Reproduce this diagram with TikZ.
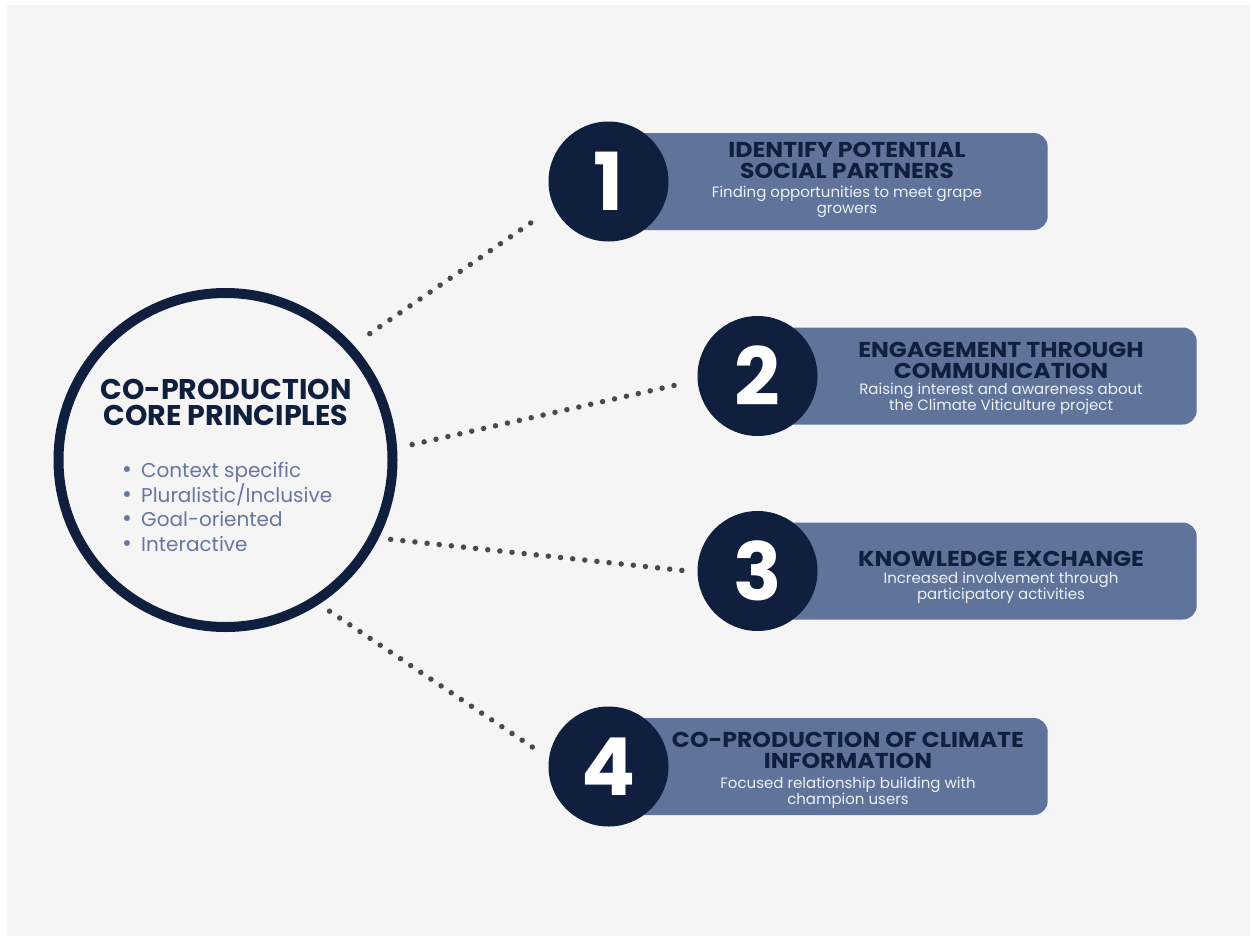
\documentclass[tikz,border=0pt]{standalone}
\usepackage{fontspec}
\setmainfont{Poppins}
\newfontfamily\stepfont{Poppins}[FakeStretch=1.1]
\usetikzlibrary{positioning}

\definecolor{navy}{HTML}{0F1F3D}
\definecolor{slate}{HTML}{5F739B}
\definecolor{listblue}{HTML}{6677A0}
\definecolor{dotgray}{HTML}{4A4A4A}
\definecolor{paper}{HTML}{F5F5F5}
\definecolor{subwhite}{HTML}{EEF0F4}

\newcommand{\pitem}[1]{\makebox[19pt][l]{\fontsize{24}{24}\selectfont\textbullet}#1}

\tikzset{
	core/.style={circle, draw=navy, line width=10pt, fill=paper, minimum size=334pt, inner sep=0pt},
	stepnum/.style={circle, fill=navy, minimum size=120pt, inner sep=0pt, text=white,
		font=\fontsize{80}{80}\selectfont\bfseries},
	stepbox/.style={rectangle, rounded corners=14pt, fill=slate, minimum width=439pt,
		minimum height=97pt, anchor=west, inner sep=0pt},
	steptitle/.style={anchor=north, inner sep=0pt, align=center, text=navy,
		font=\stepfont\fontsize{21.5}{21}\selectfont\bfseries},
	stepsub/.style={anchor=north, inner sep=0pt, align=center, text=subwhite,
		font=\fontsize{15}{16.5}\selectfont},
	dotline/.style={dotgray, line width=5.5pt, line cap=round, dash pattern=on 0pt off 12.2pt},
}

\begin{document}
\begin{tikzpicture}[x=1pt,y=-1pt]
	\useasboundingbox (0,0) rectangle (1253,937);
	%Background
	\fill [white] (0,0) rectangle (1253,937);
	\fill [paper] (7,5) rectangle (1250,936);

	%Core principles circle
	\node [core] (core) at (225.5,460) {};
	\node [anchor=north, inner sep=0pt, align=center, text=navy,
		font=\fontsize{28.5}{25.5}\selectfont\bfseries] (coretitle) at (226,379.5)
		{CO-PRODUCTION\\CORE PRINCIPLES};
	\node [anchor=north west, inner sep=0pt, align=left, text=listblue,
		font=\fontsize{20}{24.6}\selectfont] (corelist) at (122,462)
		{\pitem{Context specific}\\\pitem{Pluralistic/Inclusive}\\\pitem{Goal-oriented}\\\pitem{Interactive}};

	%Step 1
	\coordinate (c1) at (608.5,181.5);
	\node [stepbox] (b1) at (c1) {};
	\node [stepnum] (n1) at (c1) {1};
	\node [steptitle] (t1) at (847,141.5) {IDENTIFY POTENTIAL\\SOCIAL PARTNERS};
	\node [stepsub] (s1) at (847,185.5) {Finding opportunities to meet grape\\growers};

	%Step 2
	\coordinate (c2) at (757.5,376);
	\node [stepbox] (b2) at (c2) {};
	\node [stepnum] (n2) at (c2) {2};
	\node [steptitle] (t2) at (1001,341.5) {ENGAGEMENT THROUGH\\COMMUNICATION};
	\node [stepsub] (s2) at (1001,382.5) {Raising interest and awareness about\\the Climate Viticulture project};

	%Step 3
	\coordinate (c3) at (757.5,571);
	\node [stepbox] (b3) at (c3) {};
	\node [stepnum] (n3) at (c3) {3};
	\node [steptitle] (t3) at (1001,550.5) {KNOWLEDGE EXCHANGE};
	\node [stepsub] (s3) at (1001,571.5) {Increased involvement through\\participatory activities};

	%Step 4
	\coordinate (c4) at (608.5,766.5);
	\node [stepbox] (b4) at (c4) {};
	\node [stepnum] (n4) at (c4) {4};
	\node [steptitle] (t4) at (848,731.5) {CO-PRODUCTION OF CLIMATE\\INFORMATION};
	\node [stepsub] (s4) at (848,776.5) {Focused relationship building with\\champion users};

	%Dotted links
	\draw [dotline, shorten <=20pt, shorten >=18pt] (core.42) -- (n1.205);
	\draw [dotline, shorten <=15.5pt, shorten >=12pt] (core.4.3) -- (n2.184.8);
	\draw [dotline, shorten <=12pt, shorten >=5.5pt] (core.-27.8) -- (n3.181.7);
	\draw [dotline, shorten <=12.5pt, shorten >=9.5pt] (core.-57.2) -- (n4.172.7);
\end{tikzpicture}
\end{document}
